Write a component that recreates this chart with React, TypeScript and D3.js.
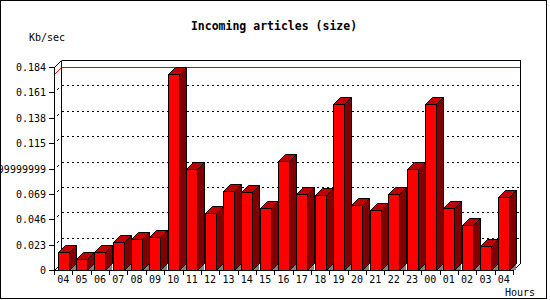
import React from "react";
import * as d3 from "d3";

const categories = ["04","05","06","07","08","09","10","11","12","13","14","15","16","17","18","19","20","21","22","23","00","01","02","03","04"];
const values = [0.0160,0.0097,0.0160,0.0251,0.0278,0.0296,0.1777,0.0912,0.0514,0.0713,0.0704,0.0559,0.0985,0.0686,0.0677,0.1502,0.0586,0.0541,0.0686,0.0912,0.1502,0.0559,0.0405,0.0215,0.0659];
const yTicks = [0, 0.023, 0.046, 0.069, 0.092, 0.115, 0.138, 0.161, 0.184];
const yTickLabels = ["0","0.023","0.046","0.069","0.09199999999999999","0.115","0.138","0.161","0.184"];
const title = "Incoming articles (size)";
const yUnit = "Kb/sec";
const xUnit = "Hours";

const W = 550, H = 300;
const L = 54, R = 513, BASE = 270, TOP = 67, D = 7;
const mono = "'DejaVu Sans Mono', 'Liberation Mono', monospace";

export default function App() {
  const x = d3.scaleBand<number>().domain(categories.map((_, i) => i)).range([L, R]).paddingInner(0.4).paddingOuter(0.2);
  const y = d3.scaleLinear().domain([0, 0.184]).range([BASE, TOP]);
  const step = x.step();
  const maxV = d3.max(values) as number;
  const yMax = Math.round(y(maxV));
  const p = (v: number) => Math.round(v) + 0.5;

  return (
    <svg width={W} height={H} style={{ position: "absolute", left: 0, top: 0, background: "#fff" }} shapeRendering="crispEdges">
      <rect x={0.5} y={0.5} width={546} height={298} fill="#fff" stroke="#000" />
      <text x={274} y={30} textAnchor="middle" fontFamily={mono} fontWeight="bold" fontSize={11.5}>{title}</text>
      <text x={29} y={41} fontFamily={mono} fontSize={10}>{yUnit}</text>

      {/* back wall frame */}
      <line x1={L + D + 0.5} y1={TOP - D + 0.5} x2={R + D + 0.5} y2={TOP - D + 0.5} stroke="#000" />
      <line x1={R + D + 0.5} y1={TOP - D + 0.5} x2={R + D + 0.5} y2={BASE - D + 0.5} stroke="#000" />
      <line x1={L + D + 0.5} y1={TOP - D + 0.5} x2={L + D + 0.5} y2={BASE - D + 0.5} stroke="#000" />
      <line x1={L + 0.5} y1={TOP + 0.5} x2={L + D + 0.5} y2={TOP - D + 0.5} stroke="#000" shapeRendering="auto" />
      <line x1={R + 0.5} y1={BASE + 0.5} x2={R + D + 0.5} y2={BASE - D + 0.5} stroke="#000" shapeRendering="auto" />
      <line x1={L + 0.5} y1={BASE + 0.5} x2={L + D + 0.5} y2={BASE - D + 0.5} stroke="#000" shapeRendering="auto" />

      {/* grid */}
      {yTicks.slice(1, -1).map((t, i) => {
        const yf = Math.round(y(t));
        return (
          <g key={"g" + i}>
            <line x1={L + D + 1} y1={yf - D + 0.5} x2={R + D} y2={yf - D + 0.5} stroke="#000" strokeDasharray="2,3" />
            <line x1={L + 3} y1={yf - 2} x2={L + 5} y2={yf - 4} stroke="#000" shapeRendering="auto" />
          </g>
        );
      })}

      {/* max line */}
      <line x1={L + D + 1} y1={yMax - D + 0.5} x2={R + D} y2={yMax - D + 0.5} stroke="#e00000" />
      <line x1={L + 0.5} y1={yMax + 0.5} x2={L + D + 0.5} y2={yMax - D + 0.5} stroke="#e00000" shapeRendering="auto" />

      {/* y axis */}
      <line x1={L + 0.5} y1={TOP} x2={L + 0.5} y2={BASE + 1} stroke="#000" />
      {yTicks.map((t, i) => {
        const yf = Math.round(y(t));
        return (
          <g key={"t" + i}>
            <line x1={L - 5} y1={yf + 0.5} x2={L} y2={yf + 0.5} stroke="#000" />
            <text x={46} y={yf} dy="0.35em" textAnchor="end" fontFamily={mono} fontSize={10}>{yTickLabels[i]}</text>
          </g>
        );
      })}

      {/* bars */}
      {values.map((v, i) => {
        const x0 = Math.round(x(i) as number);
        const x1 = Math.round((x(i) as number) + x.bandwidth());
        const yt = Math.round(y(v));
        return (
          <g key={"b" + i}>
            <polygon points={`${x1},${BASE} ${x1 + D},${BASE - D} ${x1 + D},${BASE}`} fill="#808080" />
            <polygon points={`${x1 + 0.5},${yt + 0.5} ${x1 + D + 0.5},${yt - D + 0.5} ${x1 + D + 0.5},${BASE - D + 0.5} ${x1 + 0.5},${BASE + 0.5}`} fill="#800000" stroke="#000" shapeRendering="auto" />
            <polygon points={`${x0 + 0.5},${yt + 0.5} ${x0 + D + 0.5},${yt - D + 0.5} ${x1 + D + 0.5},${yt - D + 0.5} ${x1 + 0.5},${yt + 0.5}`} fill="#c00000" stroke="#000" shapeRendering="auto" />
            <rect x={x0 + 0.5} y={yt + 0.5} width={x1 - x0} height={BASE - yt} fill="#ff0000" stroke="#000" />
          </g>
        );
      })}

      {/* x axis */}
      <line x1={L} y1={BASE + 0.5} x2={R + 1} y2={BASE + 0.5} stroke="#000" />
      {d3.range(categories.length + 1).map((i) => (
        <line key={"xt" + i} x1={p(L + i * step)} y1={BASE} x2={p(L + i * step)} y2={BASE + 5} stroke="#000" />
      ))}
      {categories.map((c, i) => (
        <text key={"xl" + i} x={(x(i) as number) + x.bandwidth() / 2} y={283} textAnchor="middle" fontFamily={mono} fontSize={10}>{c}</text>
      ))}
      <text x={535} y={296} textAnchor="end" fontFamily={mono} fontSize={10}>{xUnit}</text>
    </svg>
  );
}
